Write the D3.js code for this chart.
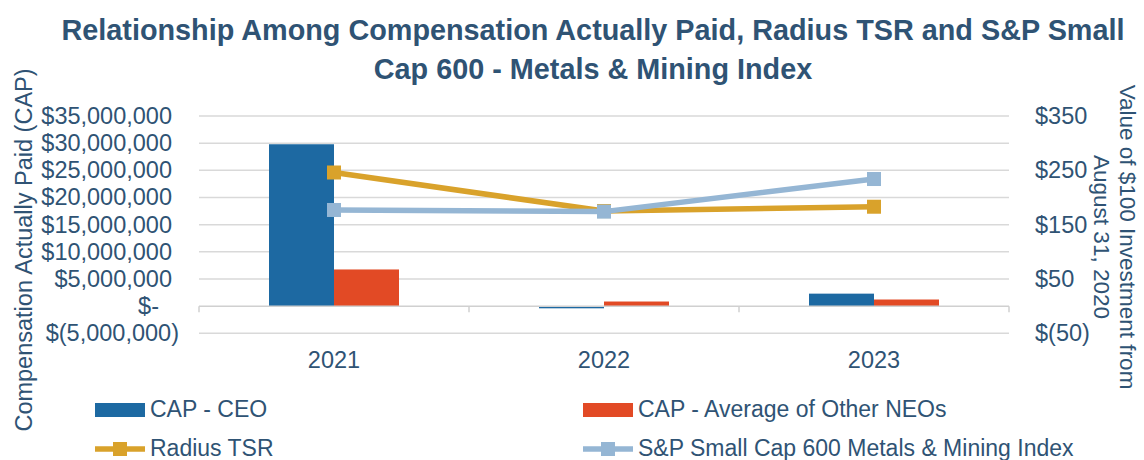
<!DOCTYPE html>
<html>
<head>
<meta charset="utf-8">
<script src="https://cdn.jsdelivr.net/npm/d3@7"></script>
<style>
  body { margin: 0; background: #fff; }
  svg text { font-family: "Liberation Sans", Arial, sans-serif; fill: #2F5374; }
</style>
</head>
<body>
<svg id="chart" width="1144" height="460"></svg>
<script>
/* Data */
var years = ["2021", "2022", "2023"];
var capCeo = [29800000, -400000, 2300000];
var capNeo = [6750000, 850000, 1220000];
var radiusTsr = [246, 175, 183];
var spIndex = [177, 174, 234];
var leftTicks = [35000000, 30000000, 25000000, 20000000, 15000000, 10000000, 5000000, 0, -5000000];
var rightTicks = [350, 250, 150, 50, -50];

var colors = {ceo: "#1D69A2", neo: "#E24A25", tsr: "#D9A22B", sp: "#95B6D4", grid: "#D9D9D9"};

var svg = d3.select("#chart");

var plotLeft = 199, plotRight = 1009, plotTop = 116, plotBottom = 333.3;
var fs = "23px";
var tickFs = "23.5px";

var x = d3.scaleBand().domain(years).range([plotLeft, plotRight]);
var xInner = d3.scaleBand().domain(["ceo", "neo"]).range([0, 130]);
var yLeft = d3.scaleLinear().domain([-5000000, 35000000]).range([plotBottom, plotTop]);
var yRight = d3.scaleLinear().domain([-50, 350]).range([plotBottom, plotTop]);

// Title
svg.append("text").attr("x", 593).attr("y", 40).attr("text-anchor", "middle")
  .style("font-size", "28.8px").style("font-weight", "bold")
  .text("Relationship Among Compensation Actually Paid, Radius TSR and S&P Small");
svg.append("text").attr("x", 593).attr("y", 79).attr("text-anchor", "middle")
  .style("font-size", "28.8px").style("font-weight", "bold")
  .text("Cap 600 - Metals & Mining Index");

// Gridlines
svg.append("g").selectAll("line").data(leftTicks.filter(function(d){ return d !== 0; }))
  .enter().append("line")
  .attr("x1", plotLeft).attr("x2", plotRight)
  .attr("y1", function(d){ return yLeft(d); }).attr("y2", function(d){ return yLeft(d); })
  .attr("stroke", colors.grid).attr("stroke-width", 1.5);

// Left axis labels
function fmtLeft(d){
  if (d === 0) return "$-";
  var s = d3.format(",")(Math.abs(d));
  return d < 0 ? "$(" + s + ")" : "$" + s;
}
svg.append("g").selectAll("text").data(leftTicks).enter().append("text")
  .attr("x", function(d){ return d === 0 ? 159 : (d < 0 ? 179 : 172); })
  .attr("y", function(d){ return yLeft(d) + 8; })
  .attr("text-anchor", "end").style("font-size", tickFs)
  .text(fmtLeft);

// Right axis labels
svg.append("g").selectAll("text").data(rightTicks).enter().append("text")
  .attr("x", 1035).attr("y", function(d){ return yRight(d) + 8; })
  .style("font-size", tickFs)
  .text(function(d){ return d < 0 ? "$(" + Math.abs(d) + ")" : "$" + d; });

// Bars
var groups = svg.append("g").selectAll("g").data(years).enter().append("g")
  .attr("transform", function(d){ return "translate(" + (x(d) + x.bandwidth()/2 - 65) + ",0)"; });
groups.append("rect")
  .attr("x", xInner("ceo")).attr("width", xInner.bandwidth())
  .attr("y", function(d, i){ return yLeft(Math.max(0, capCeo[i])); })
  .attr("height", function(d, i){ return Math.abs(yLeft(capCeo[i]) - yLeft(0)); })
  .attr("fill", colors.ceo);
groups.append("rect")
  .attr("x", xInner("neo")).attr("width", xInner.bandwidth())
  .attr("y", function(d, i){ return yLeft(Math.max(0, capNeo[i])); })
  .attr("height", function(d, i){ return Math.abs(yLeft(capNeo[i]) - yLeft(0)); })
  .attr("fill", colors.neo);

// Zero axis line with ticks
svg.append("line").attr("x1", plotLeft).attr("x2", plotRight)
  .attr("y1", yLeft(0)).attr("y2", yLeft(0)).attr("stroke", "#D0D0D0").attr("stroke-width", 1.5);
var bounds = years.map(function(d){ return x(d); }).concat([plotRight]);
svg.append("g").selectAll("line").data(bounds).enter().append("line")
  .attr("x1", function(d){ return d; }).attr("x2", function(d){ return d; })
  .attr("y1", yLeft(0)).attr("y2", yLeft(0) + 6)
  .attr("stroke", "#D0D0D0").attr("stroke-width", 1.5);

// Year labels
svg.append("g").selectAll("text").data(years).enter().append("text")
  .attr("x", function(d){ return x(d) + x.bandwidth()/2; }).attr("y", 368)
  .attr("text-anchor", "middle").style("font-size", tickFs)
  .text(function(d){ return d; });

// Lines
function drawSeries(vals, color){
  var line = d3.line()
    .x(function(d, i){ return x(years[i]) + x.bandwidth()/2; })
    .y(function(d){ return yRight(d); });
  svg.append("path").datum(vals).attr("d", line)
    .attr("fill", "none").attr("stroke", color).attr("stroke-width", 5.5);
  svg.append("g").selectAll("rect").data(vals).enter().append("rect")
    .attr("x", function(d, i){ return x(years[i]) + x.bandwidth()/2 - 7; })
    .attr("y", function(d){ return yRight(d) - 7; })
    .attr("width", 14).attr("height", 14).attr("fill", color);
}
drawSeries(radiusTsr, colors.tsr);
drawSeries(spIndex, colors.sp);

// Axis titles
svg.append("text")
  .attr("transform", "translate(32,250) rotate(-90)")
  .attr("text-anchor", "middle").style("font-size", "23.5px")
  .text("Compensation Actually Paid (CAP)");
svg.append("text")
  .attr("transform", "translate(1120,237) rotate(90)")
  .attr("text-anchor", "middle").style("font-size", "22.5px")
  .text("Value of $100 Investment from");
svg.append("text")
  .attr("transform", "translate(1094,237) rotate(90)")
  .attr("text-anchor", "middle").style("font-size", "22.5px")
  .text("August 31, 2020");

// Legend
var legendItems = [
  {label: "CAP - CEO", color: colors.ceo, type: "bar", x: 95, y: 410},
  {label: "CAP - Average of Other NEOs", color: colors.neo, type: "bar", x: 583, y: 410},
  {label: "Radius TSR", color: colors.tsr, type: "line", x: 95, y: 449},
  {label: "S&P Small Cap 600 Metals & Mining Index", color: colors.sp, type: "line", x: 583, y: 449}
];
var leg = svg.append("g").selectAll("g").data(legendItems).enter().append("g")
  .attr("transform", function(d){ return "translate(" + d.x + "," + d.y + ")"; });
leg.filter(function(d){ return d.type === "bar"; }).append("rect")
  .attr("x", 0).attr("y", -7).attr("width", 50).attr("height", 14)
  .attr("fill", function(d){ return d.color; });
leg.filter(function(d){ return d.type === "line"; }).append("line")
  .attr("x1", 0).attr("x2", 50).attr("y1", 0).attr("y2", 0)
  .attr("stroke", function(d){ return d.color; }).attr("stroke-width", 5.5);
leg.filter(function(d){ return d.type === "line"; }).append("rect")
  .attr("x", 18).attr("y", -7).attr("width", 14).attr("height", 14)
  .attr("fill", function(d){ return d.color; });
leg.append("text").attr("x", 55).attr("y", 7).style("font-size", fs)
  .text(function(d){ return d.label; });
</script>
</body>
</html>
